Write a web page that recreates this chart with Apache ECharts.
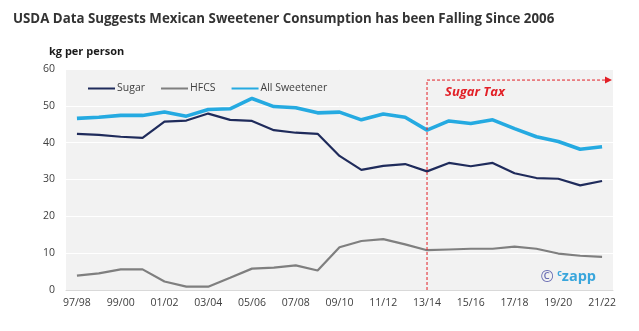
<!DOCTYPE html>
<html>
<head>
<meta charset="utf-8">
<script src="https://cdn.jsdelivr.net/npm/echarts@6/dist/echarts.min.js"></script>
<style>
  html, body { margin: 0; padding: 0; background: #ffffff; }
  #chart { width: 639px; height: 331px; }
</style>
</head>
<body>
<div id="chart"></div>
<script>
// Marketing seasons (Oct/Sep), 1997/98 to 2021/22
const seasons = [
  '97/98', '98/99', '99/00', '00/01', '01/02', '02/03', '03/04', '04/05', '05/06',
  '06/07', '07/08', '08/09', '09/10', '10/11', '11/12', '12/13', '13/14', '14/15',
  '15/16', '16/17', '17/18', '18/19', '19/20', '20/21', '21/22'
];

// Per-capita consumption, kg per person
const sugar = [
  42.4, 42.1, 41.6, 41.3, 45.7, 46.0, 47.9, 46.2, 45.9, 43.4, 42.7, 42.4, 36.4,
  32.6, 33.7, 34.2, 32.2, 34.5, 33.6, 34.5, 31.7, 30.4, 30.2, 28.4, 29.6
];
const hfcs = [
  3.9, 4.5, 5.6, 5.6, 2.3, 0.9, 0.9, 3.3, 5.8, 6.1, 6.7, 5.3, 11.6,
  13.3, 13.8, 12.4, 10.8, 11.0, 11.2, 11.2, 11.8, 11.2, 9.9, 9.3, 9.0
];
const allSweetener = [
  46.6, 46.9, 47.4, 47.4, 48.3, 47.2, 49.0, 49.2, 52.0, 49.8, 49.5, 48.1, 48.3,
  46.2, 47.8, 46.9, 43.4, 45.9, 45.2, 46.2, 43.8, 41.6, 40.3, 38.2, 38.9
];

// Sugar tax introduced from the 2013/14 season
const taxStart = '13/14';
const taxArrowLevel = 57;
const taxLabelLevel = 53.8;

const RED = '#E21F26';
const TEXT = '#404040';
const FONT = '"Open Sans", "Noto Sans", sans-serif';

const chart = echarts.init(document.getElementById('chart'), null, { renderer: 'canvas' });

chart.setOption({
  animation: false,
  backgroundColor: '#ffffff',
  title: [
    {
      text: 'USDA Data Suggests Mexican Sweetener Consumption has been Falling Since 2006',
      left: 8, top: 8,
      textStyle: { fontFamily: FONT, fontSize: 13.3, fontWeight: 'bold', color: '#333333' }
    },
    {
      text: 'kg per person',
      left: 44, top: 41,
      textStyle: { fontFamily: FONT, fontSize: 11, fontWeight: 'bold', color: '#1a1a1a' }
    }
  ],
  legend: {
    left: 82, top: 78,
    itemWidth: 27, itemHeight: 10, itemGap: 15,
    itemStyle: { opacity: 0 },
    textStyle: { fontFamily: FONT, fontSize: 10.5, color: TEXT, padding: [0, 0, 0, -3] },
    data: ['Sugar', 'HFCS', 'All Sweetener']
  },
  grid: {
    left: 66, right: 26, top: 69, bottom: 41,
    show: true, backgroundColor: '#F2F2F2', borderWidth: 0
  },
  xAxis: {
    type: 'category',
    data: seasons,
    boundaryGap: true,
    axisLine: { lineStyle: { color: '#D9D9D9', width: 1 } },
    axisTick: { interval: 1, length: 5, lineStyle: { color: '#D9D9D9' } },
    axisLabel: { interval: 1, color: TEXT, fontFamily: FONT, fontSize: 10.5, margin: 8 },
    splitLine: { show: false }
  },
  yAxis: {
    type: 'value',
    min: 0, max: 60, interval: 10,
    axisLine: { show: false },
    axisTick: { show: false },
    axisLabel: { color: TEXT, fontFamily: FONT, fontSize: 10.5, margin: 11 },
    splitLine: { lineStyle: { color: '#ffffff', width: 1 } }
  },
  series: [
    {
      name: 'Sugar', type: 'line', data: sugar,
      symbol: 'none', showSymbol: false, color: '#1F2B5B',
      lineStyle: { width: 2.2, color: '#1F2B5B' }
    },
    {
      name: 'HFCS', type: 'line', data: hfcs,
      symbol: 'none', showSymbol: false, color: '#7F7F7F',
      lineStyle: { width: 2.2, color: '#7F7F7F' }
    },
    {
      name: 'All Sweetener', type: 'line', data: allSweetener,
      symbol: 'none', showSymbol: false, color: '#25AAE1',
      lineStyle: { width: 3.6, color: '#25AAE1' }
    }
  ]
});

// Sugar-tax annotation: dashed marker line at 13/14 with an arrow running to the end of the series
function drawAnnotations() {
  const px = (cat, v) => chart.convertToPixel({ xAxisIndex: 0, yAxisIndex: 0 }, [cat, v]);
  const top = px(taxStart, taxArrowLevel);
  const base = px(taxStart, 0);
  const last = px(seasons[seasons.length - 1], 0);
  const prev = px(seasons[seasons.length - 2], 0);
  const band = last[0] - prev[0];
  const endX = last[0] + band / 2 - 1;
  const labelPos = px(taxStart, taxLabelLevel);
  const dash = { stroke: RED, lineWidth: 1, lineDash: [3, 2] };

  chart.setOption({
    graphic: [
      { type: 'line', shape: { x1: base[0], y1: base[1], x2: top[0], y2: top[1] }, style: dash, z: 100 },
      { type: 'line', shape: { x1: top[0], y1: top[1], x2: endX - 6, y2: top[1] }, style: dash, z: 100 },
      {
        type: 'polygon',
        shape: { points: [[endX - 7, top[1] - 3.5], [endX, top[1]], [endX - 7, top[1] + 3.5]] },
        style: { fill: RED }, z: 100
      },
      {
        type: 'text', x: top[0] + 18, y: labelPos[1], z: 100,
        style: {
          text: 'Sugar Tax', fill: RED, fontFamily: FONT, fontSize: 13,
          fontWeight: 'bold', fontStyle: 'italic', textVerticalAlign: 'middle'
        }
      },
      {
        type: 'text', right: 43, bottom: 46, z: 100,
        style: {
          text: '{sym|©} {sm|c}{big|zapp}',
          rich: {
            sym: { fontFamily: FONT, fontSize: 16, fill: '#6A6DB3' },
            sm: { fontFamily: FONT, fontSize: 9, fontWeight: 'bold', fill: '#3AA6DC', verticalAlign: 'top' },
            big: { fontFamily: FONT, fontSize: 14.5, fontWeight: 'bold', fill: '#3AA6DC' }
          }
        }
      }
    ]
  });
}

drawAnnotations();
</script>
</body>
</html>
